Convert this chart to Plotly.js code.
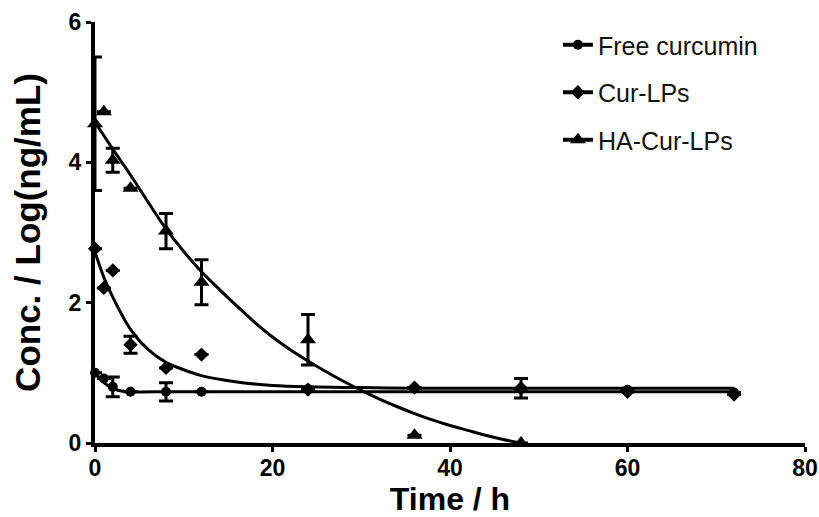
<!DOCTYPE html>
<html>
<head>
<meta charset="utf-8">
<script src="https://cdn.plot.ly/plotly-3.0.1.min.js"></script>
<style>html,body{margin:0;padding:0;background:#fff;}#chart{width:819px;height:517px;}</style>
</head>
<body>
<div id="chart"></div>
<script>
// Measured data points
const time = [0, 1, 2, 4, 8, 12, 24, 36, 48, 60, 72];
const freeCur = [1.0, 0.92, 0.8, 0.73, 0.73, 0.73, 0.77, 0.78, 0.77, 0.76, 0.72];
const freeErr = [null, null, 0.14, null, 0.13, null, null, null, null, null, null];
const curLPs = [2.77, 2.21, 2.46, 1.40, 1.07, 1.26, 0.76, 0.79, 0.78, 0.73, 0.69];
const curErr = [null, null, null, 0.12, null, null, null, null, 0.14, null, null];
const haTime = [0, 1, 2, 4, 8, 12, 24, 36, 48];
const haLPs = [4.55, 4.72, 4.03, 3.63, 3.02, 2.29, 1.47, 0.11, 0.0];
const haErr = [0.95, null, 0.17, null, 0.25, 0.32, 0.36, null, null];

// Fitted curves
const freeFitT = [0, 1, 2, 3, 4, 8, 12, 24, 36, 48, 60, 72];
const freeFit = [1.0, 0.86, 0.78, 0.74, 0.73, 0.73, 0.73, 0.73, 0.73, 0.73, 0.73, 0.73];
const curFitT = [0, 1, 2, 4, 6, 8, 12, 16, 20, 24, 30, 36, 42, 48, 60, 72];
const curFit = [2.72, 2.36, 2.08, 1.62, 1.33, 1.15, 0.96, 0.87, 0.82, 0.80, 0.79, 0.78, 0.78, 0.78, 0.78, 0.78];
const haFitT = [0, 2, 4, 6, 8, 10, 12, 14, 16, 18, 20, 22, 24, 26, 28, 30, 32, 34, 36, 38, 40, 42, 44, 46, 48];
const haFit = [4.57, 4.19, 3.82, 3.43, 3.05, 2.73, 2.44, 2.19, 1.95, 1.72, 1.51, 1.33, 1.17, 1.02, 0.88, 0.75, 0.63, 0.52, 0.42, 0.33, 0.25, 0.18, 0.11, 0.05, 0.0];

const seriesNames = ['Free curcumin', 'Cur-LPs', 'HA-Cur-LPs'];
const xTicks = [0, 20, 40, 60, 80];
const yTicks = [0, 2, 4, 6];

// interleave nulls so isolated points get a line+marker legend symbol but no connecting lines
function gap(arr) { const out = []; arr.forEach(v => { out.push(v); out.push(null); }); return out; }

const K = '#000';
function pts(x, y, err, name, symbol, size, grp) {
  return {
    x: gap(x), y: gap(y), name: name, legendgroup: grp, type: 'scatter', mode: 'lines+markers',
    connectgaps: false, cliponaxis: false,
    line: {color: K, width: 4},
    marker: {symbol: symbol, size: size, color: K},
    error_y: {type: 'data', array: gap(err), visible: true, color: K, thickness: 3, width: 7}
  };
}
function fit(x, y, grp) {
  return {x: x, y: y, type: 'scatter', mode: 'lines', legendgroup: grp, showlegend: false,
    line: {color: K, width: 3, shape: 'spline', smoothing: 0.8}, hoverinfo: 'skip', cliponaxis: false};
}

const data = [
  fit(freeFitT, freeFit, 'a'),
  fit(curFitT, curFit, 'b'),
  fit(haFitT, haFit, 'c'),
  pts(time, freeCur, freeErr, seriesNames[0], 'circle', 10, 'a'),
  pts(time, curLPs, curErr, seriesNames[1], 'diamond', 11, 'b'),
  pts(haTime, haLPs, haErr, seriesNames[2], 'triangle-up', 14, 'c')
];

const tickFont = {family: '"Liberation Sans Narrow", "Liberation Sans", Arial, sans-serif', size: 23, color: K, weight: 'bold'};
const layout = {
  width: 819, height: 517,
  margin: {l: 95, r: 14, t: 22, b: 74, autoexpand: false},
  paper_bgcolor: '#fff', plot_bgcolor: '#fff',
  showlegend: true,
  legend: {x: 0.652, y: 1.0, xanchor: 'left', yanchor: 'top', traceorder: 'grouped', tracegroupgap: 12,
    itemwidth: 30,
    font: {family: '"Liberation Sans", Arial, sans-serif', size: 25, color: '#111'}, bgcolor: 'rgba(0,0,0,0)'},
  xaxis: {
    range: [0, 80], tickvals: xTicks, ticktext: xTicks.map(String), ticklabeloverflow: 'allow',
    ticklabelstandoff: -4,
    showgrid: false, zeroline: false, showline: true, linecolor: K, linewidth: 4,
    ticks: 'outside', ticklen: 5, tickwidth: 3, tickcolor: K, tickfont: tickFont,
    title: {text: 'Time / h', font: {family: '"Liberation Sans", Arial, sans-serif', size: 32, color: K, weight: 'bold'}},
    automargin: false
  },
  yaxis: {
    range: [0, 6], tickvals: yTicks, ticktext: yTicks.map(String), ticklabeloverflow: 'allow',
    showgrid: false, zeroline: false, showline: true, linecolor: K, linewidth: 4,
    ticks: 'outside', ticklen: 5, tickwidth: 3, tickcolor: K, tickfont: tickFont,
    title: {text: 'Conc. / Log(ng/mL)', font: {family: '"Liberation Sans", Arial, sans-serif', size: 35, color: K, weight: 'bold'}, standoff: 18},
    automargin: false
  }
};

Plotly.newPlot('chart', data, layout, {displayModeBar: false, staticPlot: true});
</script>
</body>
</html>
